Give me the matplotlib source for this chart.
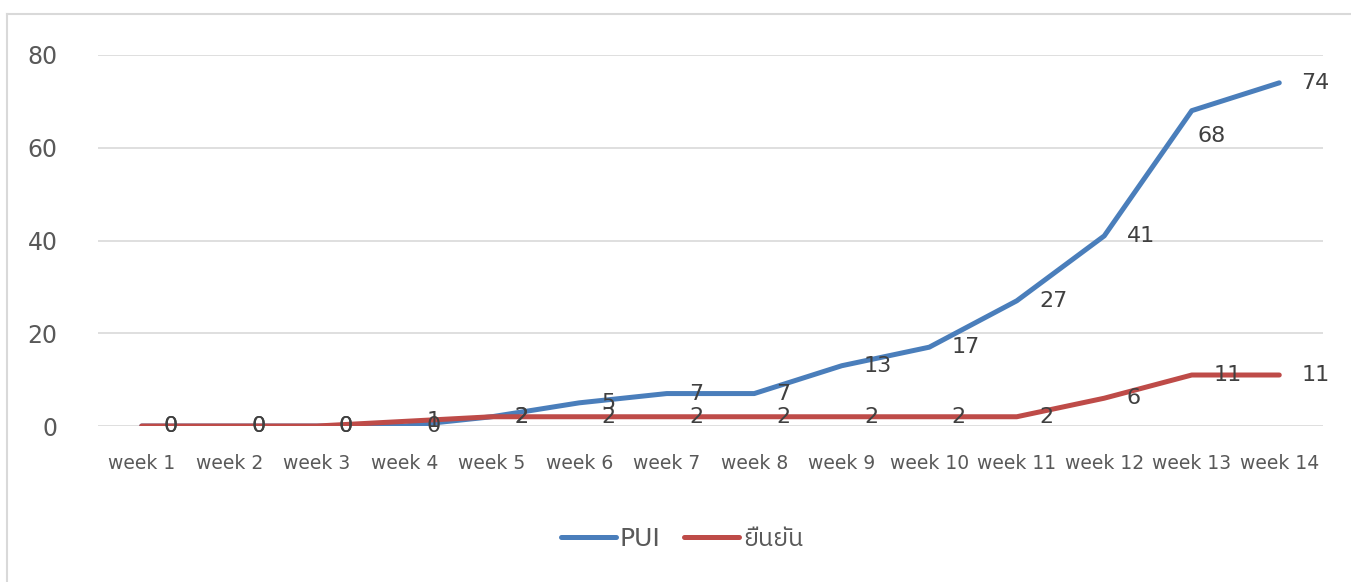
import numpy as np
import matplotlib
matplotlib.use("Agg")
import matplotlib.pyplot as plt

weeks = ["week 1", "week 2", "week 3", "week 4", "week 5", "week 6", "week 7",
         "week 8", "week 9", "week 10", "week 11", "week 12", "week 13", "week 14"]
pui = [0, 0, 0, 0, 2, 5, 7, 7, 13, 17, 27, 41, 68, 74]
confirmed = [0, 0, 0, 1, 2, 2, 2, 2, 2, 2, 2, 6, 11, 11]
series_names = ["PUI", "ยืนยัน"]
y_ticks = [0, 20, 40, 60, 80]

# DejaVu for latin text, a Thai font for the legend label
plt.rcParams["font.family"] = ["DejaVu Sans", "IBM Plex Sans Thai"]

fig = plt.figure(figsize=(13.51, 5.82), dpi=100)
ax = fig.add_axes([0.0725, 0.268, 0.9068, 0.6375])

# outer chart border (only top-left visible in the crop)
fig.add_artist(plt.Line2D([0.0055, 0.0055], [0, 0.976], color="#D9D9D9", lw=1.5))
fig.add_artist(plt.Line2D([0.0055, 1], [0.976, 0.976], color="#D9D9D9", lw=1.5))

x = np.arange(len(weeks))
blue = "#4A7EBB"
red = "#BE4B48"
ax.plot(x, pui, color=blue, lw=3.6, solid_capstyle="round", solid_joinstyle="round",
        label=series_names[0], zorder=3)
ax.plot(x, confirmed, color=red, lw=3.6, solid_capstyle="round", solid_joinstyle="round",
        label=series_names[1], zorder=4)

# data labels sit to the right of each point (Excel "Right" position)
lbl = dict(fontsize=16, color="#404040", ha="left", va="center", zorder=5)
for i, v in enumerate(pui):
    dx, dy = 16, 0
    if i == len(pui) - 2:
        dx, dy = 4, -18
    ax.annotate(str(v), (x[i], v), xytext=(dx, dy), textcoords="offset points", **lbl)
for i, v in enumerate(confirmed):
    ax.annotate(str(v), (x[i], v), xytext=(16, 0), textcoords="offset points", **lbl)

ax.set_xlim(-0.5, len(weeks) - 0.5)
ax.set_ylim(0, 80)
ax.set_yticks(y_ticks)
ax.set_xticks(x)
ax.set_xticklabels(weeks)
ax.tick_params(axis="y", length=0, pad=29, labelsize=17, labelcolor="#595959")
ax.tick_params(axis="x", length=0, pad=20, labelsize=13.5, labelcolor="#595959")
ax.grid(axis="y", color="#D9D9D9", lw=1.2)
for s in ax.spines.values():
    s.set_visible(False)

leg = fig.legend(loc="center", bbox_to_anchor=(0.505, 0.074), ncol=2, frameon=False,
                 fontsize=18, handlelength=2.2, handletextpad=0.15, columnspacing=0.95,
                 labelcolor="#595959")
for h in leg.get_lines():
    h.set_linewidth(3.6)
    h.set_solid_capstyle("round")

fig.savefig("out.png", dpi=100)
